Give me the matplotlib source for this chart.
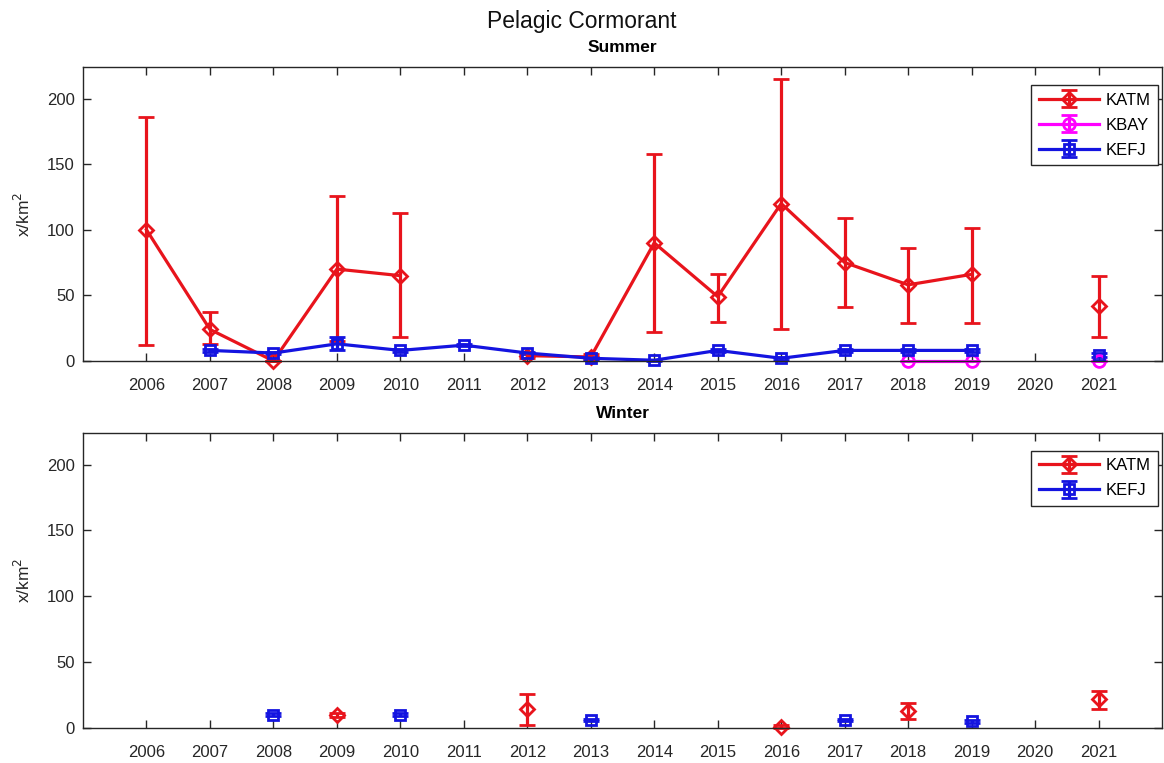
import numpy as np
import matplotlib
matplotlib.use("Agg")
import matplotlib.pyplot as plt

plt.rcParams['font.family'] = ['Liberation Sans', 'DejaVu Sans']

years = list(range(2006, 2022))
nan = np.nan

# Summer
katm_s = [100, 24, 0, 70, 65, nan, 4, 3, 90, 49, 120, 75, 58, 66, nan, 42]
katm_s_lo = [12, 13, 0, 15, 18, nan, 2, 1, 22, 30, 24, 41, 29, 29, nan, 18]
katm_s_hi = [186, 37, 0, 126, 113, nan, 6, 5, 158, 66, 215, 109, 86, 101, nan, 65]

kbay_s = [nan] * 12 + [0, 0, nan, 0]

kefj_s = [nan, 8, 6, 13, 8, 12, 6, 2, 0.5, 8, 2, 8, 8, 8, nan, 4.5]
kefj_s_lo = [nan, 7, 5, 8, 7, 11, 5, 1, 0, 7, 1, 7, 7, 7, nan, 3]
kefj_s_hi = [nan, 9, 7, 18, 9, 13, 7, 3, 1, 9, 3, 9, 9, 9, nan, 6]

# Winter
katm_w = [nan, nan, nan, 9.5, nan, nan, 14.5, nan, nan, nan, 1, nan, 13, nan, nan, 22]
katm_w_lo = [nan, nan, nan, 8, nan, nan, 2.3, nan, nan, nan, 0, nan, 7, nan, nan, 14]
katm_w_hi = [nan, nan, nan, 11, nan, nan, 25.6, nan, nan, nan, 2, nan, 19, nan, nan, 28]

kefj_w = [nan, nan, 10, nan, 10, nan, nan, 6, nan, nan, nan, 6, nan, 5, nan, nan]
kefj_w_lo = [nan, nan, 9, nan, 9, nan, nan, 5, nan, nan, nan, 5, nan, 4, nan, nan]
kefj_w_hi = [nan, nan, 11, nan, 11, nan, nan, 7, nan, nan, nan, 7, nan, 6, nan, nan]

RED = '#e8141c'
MAG = '#ff00ff'
BLUE = '#1414e0'
AXC = '#262626'

fig = plt.figure(figsize=(11.64, 7.63), dpi=100)
ax1 = fig.add_axes([0.0713, 0.527, 0.927, 0.385])
ax2 = fig.add_axes([0.0713, 0.046, 0.927, 0.3865])


def eb(ax, y, lo, hi, color, marker, label, ms=7.5):
    y = np.array(y, float)
    lo = np.array(lo, float)
    hi = np.array(hi, float)
    yerr = np.vstack([y - lo, hi - y])
    c = ax.errorbar(years, y, yerr=yerr, color=color, marker=marker, ms=ms,
                    mfc='none', mec=color, mew=2, lw=2.3, elinewidth=2.3,
                    capsize=6, capthick=2.3, label=label, clip_on=False)
    for art in c.get_children():
        art.set_clip_on(False)
    return c


eb(ax1, katm_s, katm_s_lo, katm_s_hi, RED, 'D', 'KATM')
eb(ax1, kbay_s, kbay_s, kbay_s, MAG, 'o', 'KBAY', ms=8.5)
eb(ax1, kefj_s, kefj_s_lo, kefj_s_hi, BLUE, 's', 'KEFJ')

eb(ax2, katm_w, katm_w_lo, katm_w_hi, RED, 'D', 'KATM')
eb(ax2, kefj_w, kefj_w_lo, kefj_w_hi, BLUE, 's', 'KEFJ')

for ax, title, top in ((ax1, 'Summer', 0.939), (ax2, 'Winter', 0.94)):
    ax.set_xlim(2005, 2022)
    ax.set_ylim(0, 224)
    ax.set_xticks(years)
    ax.set_xticklabels([str(y) for y in years])
    ax.set_yticks([0, 50, 100, 150, 200])
    ax.tick_params(direction='in', top=True, right=True, length=6,
                   labelsize=12, colors=AXC, width=1)
    ax.tick_params(axis='x', pad=12)
    ax.tick_params(axis='y', pad=6)
    for sp in ax.spines.values():
        sp.set_color(AXC)
        sp.set_linewidth(1)
    ax.set_ylabel('x/km$^2$', fontsize=12.5, color=AXC, labelpad=10)
    ax.set_title(title, fontsize=12.5, fontweight='bold', pad=11)
    leg = ax.legend(loc='upper right', fontsize=12, fancybox=False,
                    edgecolor=AXC, framealpha=1, handlelength=3.6,
                    handletextpad=0.4, labelspacing=0.6, borderpad=0.45,
                    borderaxespad=0, bbox_to_anchor=(0.9963, top))
    leg.get_frame().set_linewidth(1)

fig.text(0.5, 0.972, 'Pelagic Cormorant', ha='center', va='center',
         fontsize=16.5, color='#111111')

fig.savefig('out.png', dpi=100)
